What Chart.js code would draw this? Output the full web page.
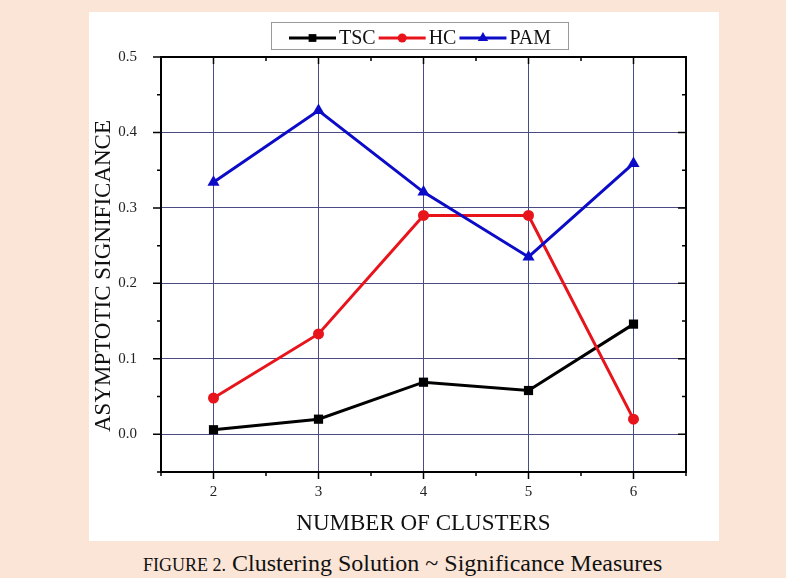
<!DOCTYPE html>
<html>
<head>
<meta charset="utf-8">
<script src="https://cdn.jsdelivr.net/npm/chart.js@4/dist/chart.umd.min.js"></script>
<style>
html,body{margin:0;padding:0;background:#fbe5d6;}
body{width:786px;height:578px;position:relative;overflow:hidden;font-family:'Liberation Serif','Times New Roman',serif;}
#panel{position:absolute;left:89px;top:12px;width:630px;height:529px;background:#fff;}
#caption{position:absolute;left:143px;top:549px;white-space:nowrap;color:#111;font-size:24px;line-height:28px;}
#caption small{font-size:18px;}
</style>
</head>
<body>
<div id="panel"><canvas id="chart" width="630" height="529"></canvas></div>
<div id="caption"><small>FIGURE 2.</small> Clustering Solution ~ Significance Measures</div>
<script>
// values
const clusters = [2, 3, 4, 5, 6];
const tscValues = [0.006, 0.020, 0.069, 0.058, 0.146];
const hcValues = [0.048, 0.133, 0.290, 0.290, 0.020];
const pamValues = [0.334, 0.429, 0.321, 0.235, 0.359];
const seriesNames = ['TSC', 'HC', 'PAM'];

const SERIF = "'Liberation Serif','Times New Roman',serif";
const gridCol = '#4a4a85';

function pts(vals){ return clusters.map((c,i)=>({x:c, y:vals[i]})); }
const isMajorY = v => Math.abs(Math.round(v*100)) % 10 === 0;

function marker(ctx, style, x, y, r, color){
  ctx.fillStyle = color;
  ctx.beginPath();
  if(style==='rect'){ const h = r*Math.SQRT1_2; ctx.rect(x-h, y-h, 2*h, 2*h); }
  else if(style==='triangle'){
    for(let k=0;k<3;k++){ const a = k*2*Math.PI/3; const px = x+Math.sin(a)*r, py = y-Math.cos(a)*r; k?ctx.lineTo(px,py):ctx.moveTo(px,py); }
    ctx.closePath();
  } else { ctx.arc(x, y, r, 0, Math.PI*2); }
  ctx.fill();
}

const framePlugin = {
  id: 'frame',
  afterDraw(chart){
    const {ctx, chartArea:a, scales:{x, y}} = chart;
    ctx.save();
    ctx.strokeStyle = '#000';
    ctx.lineWidth = 2;
    ctx.beginPath();
    ctx.moveTo(a.left, a.top); ctx.lineTo(a.right, a.top); ctx.lineTo(a.right, a.bottom);
    ctx.stroke();
    // tick marks: outward on bottom/left, inward on top/right
    ctx.lineWidth = 1.5;
    ctx.beginPath();
    x.ticks.forEach(t=>{
      const px = x.getPixelForValue(t.value), len = Number.isInteger(t.value) ? 7 : 4;
      ctx.moveTo(px, a.bottom); ctx.lineTo(px, a.bottom+len);
      ctx.moveTo(px, a.top); ctx.lineTo(px, a.top+len);
    });
    y.ticks.forEach(t=>{
      const py = y.getPixelForValue(t.value), len = isMajorY(t.value) ? 8 : 4;
      ctx.moveTo(a.left-len, py); ctx.lineTo(a.left, py);
      ctx.moveTo(a.right-len, py); ctx.lineTo(a.right, py);
    });
    ctx.stroke();

    // axis titles
    ctx.fillStyle = '#111';
    ctx.font = '23px ' + SERIF;
    ctx.textAlign = 'center';
    ctx.textBaseline = 'middle';
    ctx.fillText('NUMBER OF CLUSTERS', (a.left+a.right)/2, 512);
    ctx.save();
    ctx.translate(15, 264);
    ctx.rotate(-Math.PI/2);
    ctx.fillText('ASYMPTOTIC SIGNIFICANCE', 0, 0);
    ctx.restore();

    // legend
    ctx.strokeStyle = '#9a9a9a';
    ctx.lineWidth = 1;
    ctx.strokeRect(182.5, 10.5, 297, 27);
    ctx.font = '20px ' + SERIF;
    ctx.textAlign = 'left';
    let lx = 200;
    const ly = 26;
    chart.data.datasets.forEach(ds=>{
      ctx.strokeStyle = ds.borderColor;
      ctx.lineWidth = 3;
      ctx.beginPath(); ctx.moveTo(lx, ly); ctx.lineTo(lx+47, ly); ctx.stroke();
      marker(ctx, ds.pointStyle, lx+23.5, ly, ds.pointRadius-1, ds.borderColor);
      ctx.fillStyle = '#111';
      ctx.fillText(ds.label, lx+50, ly+1);
      lx += 50 + ctx.measureText(ds.label).width + 3;
    });
    ctx.restore();
  }
};

const mkSet = (label, vals, color, style, r, order) => ({
  label, data: pts(vals), borderColor: color, backgroundColor: color,
  pointBackgroundColor: color, pointBorderColor: color, pointBorderWidth: 0,
  pointStyle: style, pointRadius: r, borderWidth: 3, tension: 0, order
});

new Chart(document.getElementById('chart').getContext('2d'), {
  type: 'line',
  data: { datasets: [
    mkSet(seriesNames[0], tscValues, '#000000', 'rect', 6.5, 3),
    mkSet(seriesNames[1], hcValues, '#e8141b', 'circle', 5.5, 2),
    mkSet(seriesNames[2], pamValues, '#0c0cc8', 'triangle', 7, 1)
  ]},
  options: {
    responsive: false,
    animation: false,
    layout: { padding: { left: 0, top: 45, right: 33, bottom: 0 } },
    plugins: { legend: { display: false }, tooltip: { enabled: false } },
    scales: {
      x: {
        type: 'linear', min: 1.5, max: 6.5,
        afterFit: s => { s.height = 69; },
        ticks: { stepSize: 0.5, autoSkip: false, maxRotation: 0, padding: 11, color: '#222',
          font: { family: SERIF, size: 15 },
          callback: v => Number.isInteger(v) ? String(v) : '' },
        grid: { drawTicks: false, lineWidth: 1,
          color: c => (Number.isInteger(c.tick.value) && c.tick.value > 1.5 && c.tick.value < 6.5) ? gridCol : 'rgba(0,0,0,0)' },
        border: { display: true, color: '#000', width: 2 }
      },
      y: {
        min: -0.05, max: 0.5,
        afterFit: s => { s.width = 72; },
        ticks: { stepSize: 0.05, autoSkip: false, padding: 24, color: '#222',
          font: { family: SERIF, size: 15 },
          callback: v => isMajorY(v) ? v.toFixed(1) : '' },
        grid: { drawTicks: false, lineWidth: 1,
          color: c => (isMajorY(c.tick.value) && c.tick.value > -0.01 && c.tick.value < 0.45) ? gridCol : 'rgba(0,0,0,0)' },
        border: { display: true, color: '#000', width: 2 }
      }
    }
  },
  plugins: [framePlugin]
});
</script>
</body>
</html>
